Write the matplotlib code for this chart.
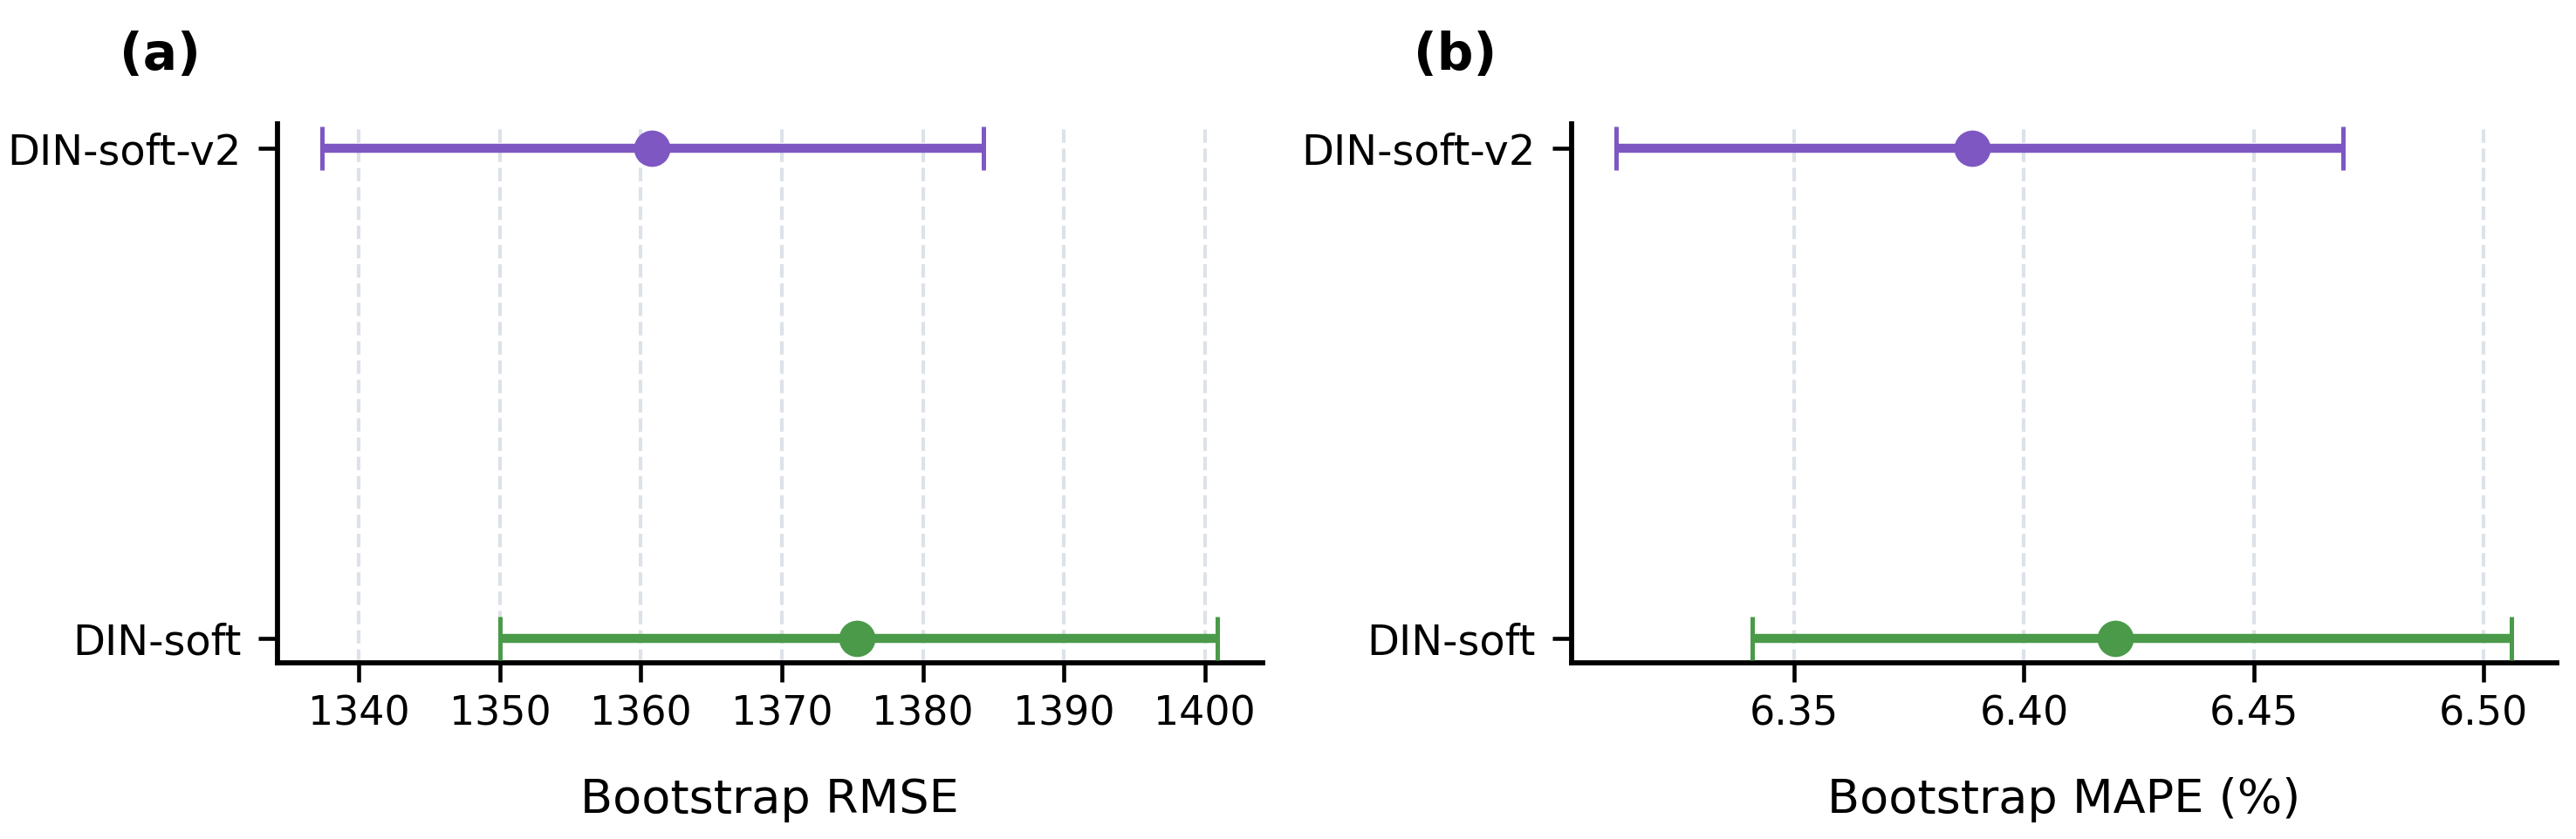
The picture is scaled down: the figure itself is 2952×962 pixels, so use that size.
import numpy as np
import matplotlib.pyplot as plt

models = ["DIN-soft", "DIN-soft-v2"]
colors = ["#4a9a4a", "#7e57c2"]

# bootstrap RMSE: mean, lower, upper
rmse_mean = [1375.35, 1360.75]
rmse_low = [1350.0, 1337.4]
rmse_high = [1400.9, 1384.3]

# bootstrap MAPE (%)
mape_mean = [6.4199, 6.3887]
mape_low = [6.3408, 6.3113]
mape_high = [6.5061, 6.4694]

panels = [
    ("(a)", "Bootstrap RMSE", rmse_mean, rmse_low, rmse_high),
    ("(b)", "Bootstrap MAPE (%)", mape_mean, mape_low, mape_high),
]

plt.rcParams['font.family'] = ['DejaVu Sans']

W, H = 2952, 962
fig = plt.figure(figsize=(W / 300, H / 300), dpi=300)
ax_w = 1128.5 / W
ax_b = 1 - 760 / H
ax_h = (760 - 141.5) / H
axes = [fig.add_axes([318 / W, ax_b, ax_w, ax_h]),
        fig.add_axes([1801 / W, ax_b, ax_w, ax_h])]

for ax, (tag, xlabel, mean, low, high) in zip(axes, panels):
    ypos = np.arange(len(models))
    for i in range(len(models)):
        err = [[mean[i] - low[i]], [high[i] - mean[i]]]
        ax.errorbar(mean[i], ypos[i], xerr=err, fmt='o', color=colors[i],
                    ecolor=colors[i], elinewidth=2.5, capsize=6, capthick=1.2,
                    markersize=9, zorder=3)
    ax.set_yticks(ypos)
    ax.set_yticklabels(models, fontsize=11.5)
    ax.tick_params(axis='x', labelsize=11)
    ax.tick_params(axis='y', pad=4.8)
    ax.tick_params(length=5.2, width=1.1)
    ax.set_xlabel(xlabel, fontsize=13, labelpad=12)
    ax.grid(axis='x', linestyle='--', color='#d8dde6', linewidth=1.0, alpha=0.85)
    ax.set_axisbelow(True)
    for s in ['top', 'right']:
        ax.spines[s].set_visible(False)
    for s in ['left', 'bottom']:
        ax.spines[s].set_linewidth(1.4)
    ax.text(-0.16, 1.08, tag, transform=ax.transAxes, fontsize=14,
            fontweight='bold', ha='left', va='bottom')

axes[1].xaxis.set_major_locator(plt.MultipleLocator(0.05))

fig.savefig("out.png", dpi=300)
